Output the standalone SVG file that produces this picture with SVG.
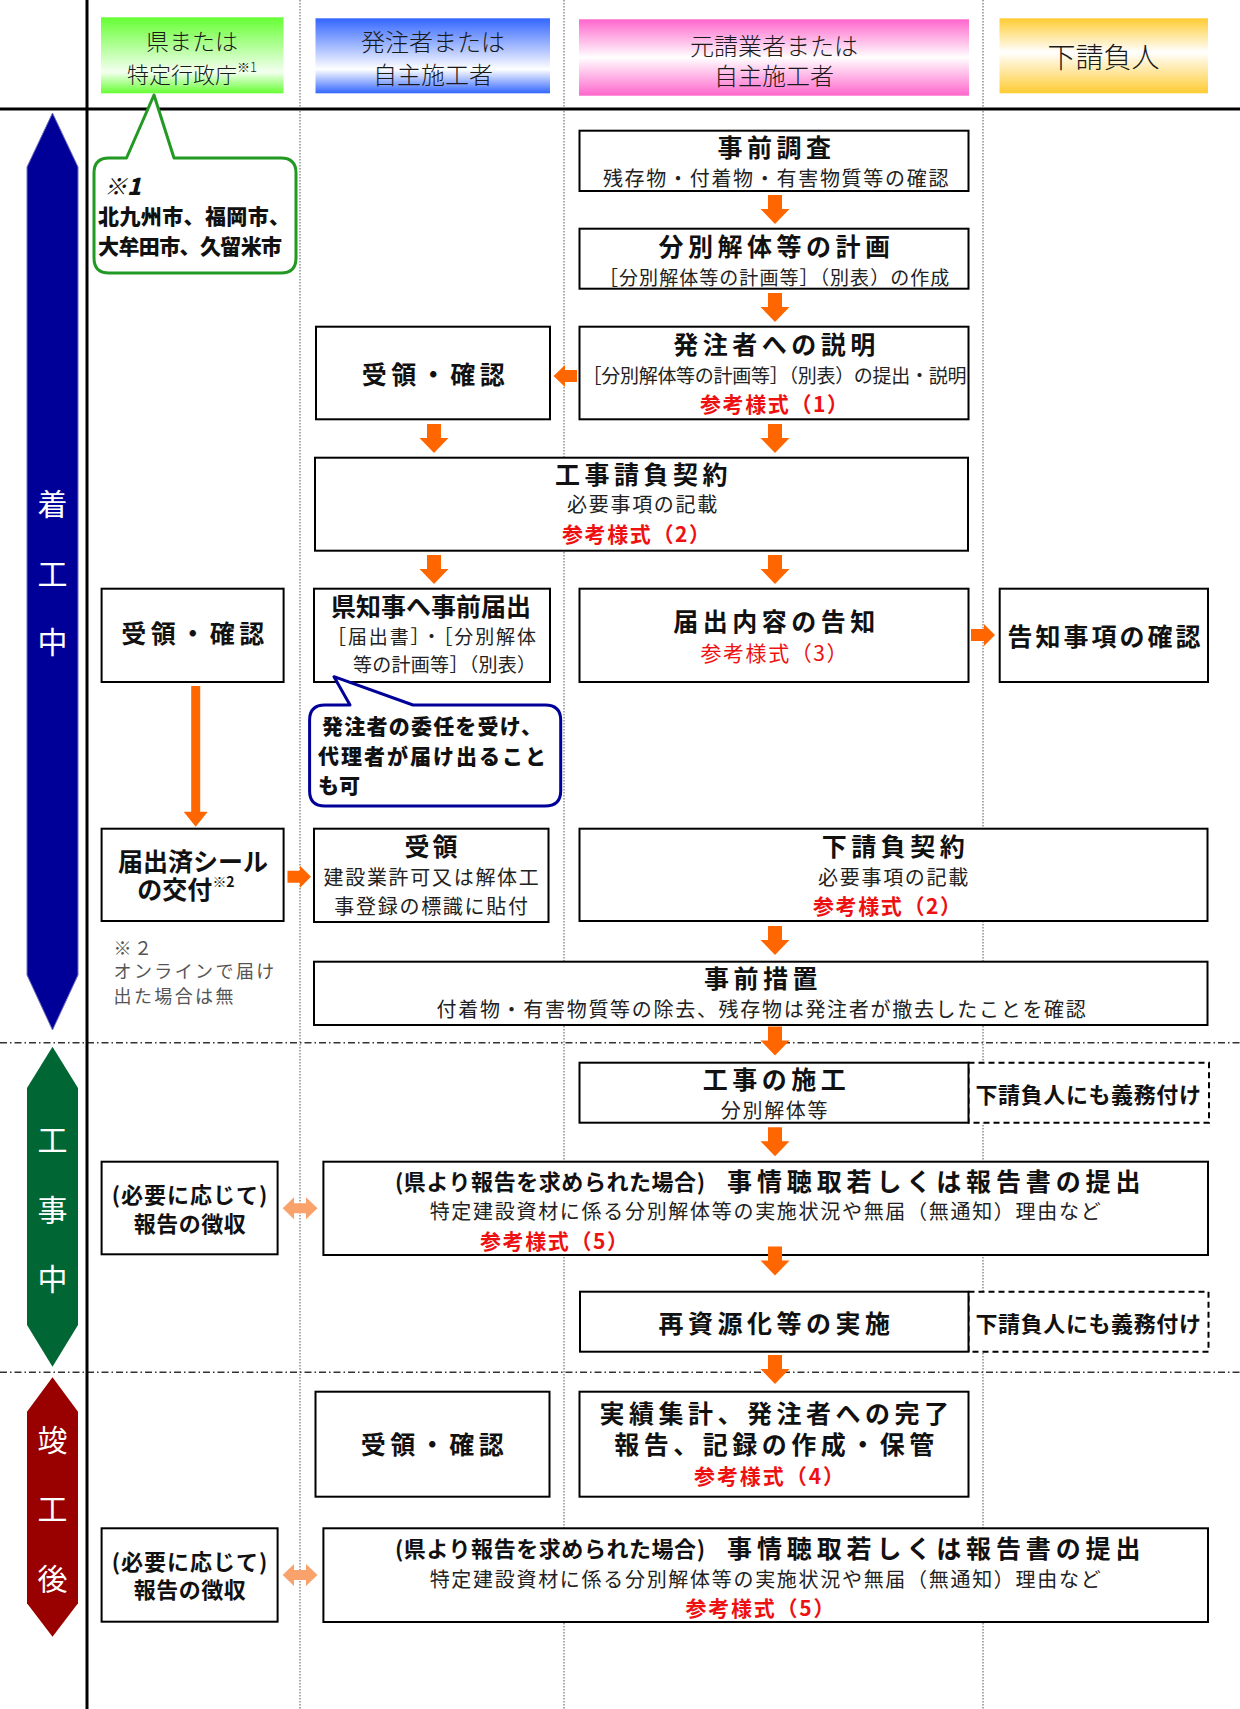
<svg xmlns="http://www.w3.org/2000/svg" width="1240" height="1709" viewBox="0 0 1240 1709">
<defs>
<linearGradient id="gG" x1="0" y1="0" x2="0" y2="1"><stop offset="0" stop-color="#66ff33"/><stop offset="0.72" stop-color="#f4fff0"/><stop offset="1" stop-color="#66ff33"/></linearGradient>
<linearGradient id="gB" x1="0" y1="0" x2="0" y2="1"><stop offset="0" stop-color="#3366ff"/><stop offset="0.68" stop-color="#ffffff"/><stop offset="1" stop-color="#3366ff"/></linearGradient>
<linearGradient id="gP" x1="0" y1="0" x2="0" y2="1"><stop offset="0" stop-color="#ff66cc"/><stop offset="0.5" stop-color="#ffffff"/><stop offset="1" stop-color="#ff66cc"/></linearGradient>
<linearGradient id="gY" x1="0" y1="0" x2="0" y2="1"><stop offset="0" stop-color="#ffcc33"/><stop offset="0.45" stop-color="#ffffff"/><stop offset="1" stop-color="#ffcc33"/></linearGradient>
<path id="dn" d="M-7,0H7V14H14.5L0,29L-14.5,14H-7Z"/>
</defs>
<style>
text{font-family:"Noto Sans CJK JP","Noto Sans CJK SC",sans-serif;dominant-baseline:central;text-anchor:middle;fill:#111}
.bx{fill:#fff;stroke:#000;stroke-width:2}
.dbx{fill:#fff;stroke:#000;stroke-width:2;stroke-dasharray:6 4}
.hd{font-size:24px;fill:#1a1a1a;font-weight:300}
.ti{font-size:25px;font-weight:700;letter-spacing:4.5px}
.st{font-size:20px;letter-spacing:1.7px;fill:#222}
.rd{font-size:21px;font-weight:700;fill:#ee1111}
.rn{font-size:21px;fill:#ee1111}
.ph{font-size:30px;fill:#fff}
.ar{fill:#ff6600}
.da{fill:#f9a26c}
.dot{stroke:#555;stroke-width:1;stroke-dasharray:1.5 1.5}
.dd{stroke:#333;stroke-width:1.5;stroke-dasharray:7 3 1.5 3}
.cb{font-size:21px;font-weight:900;text-anchor:start}
.nt{font-size:18px;fill:#555;text-anchor:start;letter-spacing:2.4px}
.sm{font-size:22px;font-weight:700}
</style>
<rect width="1240" height="1709" fill="#fff"/>

<g id="grid">
<line class="dot" x1="300" y1="0" x2="300" y2="1709"/>
<line class="dot" x1="564" y1="0" x2="564" y2="1709"/>
<line class="dot" x1="983" y1="0" x2="983" y2="1709"/>
<line class="dd" x1="0" y1="1042.7" x2="1240" y2="1042.7"/>
<line class="dd" x1="0" y1="1372.3" x2="1240" y2="1372.3"/>
<line x1="87" y1="0" x2="87" y2="1709" stroke="#000" stroke-width="3"/>
<line x1="0" y1="109" x2="1240" y2="109" stroke="#000" stroke-width="3"/>
</g>

<g id="headers">
<g id="h-pref"><rect x="101" y="17.3" width="182.5" height="76" fill="url(#gG)"/>
<text class="hd" x="192" y="40" style="font-size:23px">県または</text>
<text class="hd" x="192" y="73" style="font-size:22px">特定行政庁<tspan font-size="13" dy="-7">※1</tspan></text></g>
<g id="h-owner"><rect x="315.5" y="18.3" width="234.5" height="75" fill="url(#gB)"/>
<text class="hd" x="433" y="40">発注者または</text>
<text class="hd" x="433" y="73">自主施工者</text></g>
<g id="h-main"><rect x="579" y="19.3" width="390" height="76.4" fill="url(#gP)"/>
<text class="hd" x="774" y="44">元請業者または</text>
<text class="hd" x="774" y="74">自主施工者</text></g>
<g id="h-sub"><rect x="999.5" y="18.3" width="208.5" height="75" fill="url(#gY)"/>
<text class="hd" x="1103.5" y="56" style="font-size:28px">下請負人</text></g>
</g>

<g id="phases">
<g id="ph-start"><polygon points="52.5,113 78,167 78,975 52.5,1030 27,975 27,167" fill="#000099" stroke="#6f6fc0" stroke-width="1"/>
<text class="ph" x="52.5" y="501.7">着</text><text class="ph" x="52.5" y="571.7">工</text><text class="ph" x="52.5" y="640">中</text></g>
<g id="ph-during"><polygon points="52.5,1046.7 78,1088 78,1325 52.5,1366.7 27,1325 27,1088" fill="#006633"/>
<text class="ph" x="52.5" y="1138.3">工</text><text class="ph" x="52.5" y="1208">事</text><text class="ph" x="52.5" y="1276.7">中</text></g>
<g id="ph-after"><polygon points="52.5,1377.3 78,1411.7 78,1603.3 52.5,1636.7 27,1603.3 27,1411.7" fill="#990000"/>
<text class="ph" x="52.5" y="1438.3">竣</text><text class="ph" x="52.5" y="1506.7">工</text><text class="ph" x="52.5" y="1576.7">後</text></g>
</g>

<g id="n-note1">
<path d="M126.5,158 L154,95 L174,158 H281 Q296,158 296,173 V258 Q296,273 281,273 H109 Q94,273 94,258 V173 Q94,158 109,158 Z" fill="#fff" stroke="#229922" stroke-width="3" stroke-linejoin="round"/>
<text class="cb" x="104" y="185" style="font-style:italic;font-size:23px">※1</text>
<text class="cb" x="98" y="215" textLength="192">北九州市、福岡市、</text>
<text class="cb" x="98" y="245" textLength="184">大牟田市、久留米市</text>
</g>

<g id="n-survey"><rect class="bx" x="579.5" y="130.7" width="389" height="60.3"/>
<text class="ti" x="776.5" y="146">事前調査</text>
<text class="st" x="776.5" y="177">残存物・付着物・有害物質等の確認</text></g>

<g id="n-plan"><rect class="bx" x="579.5" y="228.7" width="389" height="60"/>
<text class="ti" x="776.5" y="245">分別解体等の計画</text>
<text class="st" x="775" y="276" style="font-size:19px" textLength="352">［分別解体等の計画等］（別表）の作成</text></g>

<g id="n-recv1"><rect class="bx" x="316" y="326.7" width="234" height="92.6"/>
<text class="ti" x="435.5" y="373">受領・確認</text></g>

<g id="n-explain"><rect class="bx" x="579.5" y="326.7" width="389" height="92.6"/>
<text class="ti" x="776.5" y="343">発注者への説明</text>
<text class="st" x="774.5" y="374" style="font-size:19px;letter-spacing:0" textLength="384">［分別解体等の計画等］（別表）の提出・説明</text>
<text class="rd" x="774" y="403" textLength="148">参考様式（1）</text></g>

<g id="n-contract"><rect class="bx" x="315" y="457.7" width="653" height="93"/>
<text class="ti" x="643.5" y="473">工事請負契約</text>
<text class="st" x="643" y="503">必要事項の記載</text>
<text class="rd" x="636" y="533" textLength="148">参考様式（2）</text></g>

<g id="n-recv2"><rect class="bx" x="101.6" y="588.7" width="182" height="93.3"/>
<text class="ti" x="195" y="631.7">受領・確認</text></g>

<g id="n-notify"><rect class="bx" x="314" y="588.7" width="236" height="93.3"/>
<text class="ti" x="431" y="605" style="letter-spacing:0">県知事へ事前届出</text>
<text class="st" x="327" y="635" style="font-size:19px;letter-spacing:0;text-anchor:start" textLength="209">［届出書］・［分別解体</text>
<text class="st" x="353" y="663" style="font-size:19px;letter-spacing:0;text-anchor:start" textLength="183">等の計画等］（別表）</text></g>

<g id="n-inform"><rect class="bx" x="579.5" y="588.7" width="389" height="93.3"/>
<text class="ti" x="776.5" y="620">届出内容の告知</text>
<text class="rn" x="774" y="651.7" textLength="147">参考様式（3）</text></g>

<g id="n-check"><rect class="bx" x="999.7" y="588.7" width="208.3" height="93.3"/>
<text class="ti" x="1105.5" y="635" style="letter-spacing:3px">告知事項の確認</text></g>

<g id="n-note-agent">
<path d="M350,705 L334,676.7 L413,705 H545 Q560.7,705 560.7,720 V791 Q560.7,806 545,806 H325 Q309.6,806 309.6,791 V720 Q309.6,705 325,705 Z" fill="#fff" stroke="#000099" stroke-width="3" stroke-linejoin="round"/>
<text class="cb" x="322" y="725" textLength="220">発注者の委任を受け、</text>
<text class="cb" x="318" y="755" textLength="228">代理者が届け出ること</text>
<text class="cb" x="318" y="784">も可</text>
</g>

<g id="n-seal"><rect class="bx" x="101.6" y="828.7" width="182" height="92.3"/>
<text class="ti" x="193" y="860" style="letter-spacing:0">届出済シール</text>
<text class="ti" x="186" y="888" style="letter-spacing:0">の交付<tspan font-size="14" dy="-7">※2</tspan></text></g>

<g id="n-note2">
<text class="nt" x="113.5" y="946.7">※２</text>
<text class="nt" x="113.5" y="970">オンラインで届け</text>
<text class="nt" x="113.5" y="995">出た場合は無</text>
</g>

<g id="n-recv3"><rect class="bx" x="314" y="828.7" width="234.5" height="93.3"/>
<text class="ti" x="432.5" y="845" style="letter-spacing:3px">受領</text>
<text class="st" x="432" y="876.7">建設業許可又は解体工</text>
<text class="st" x="432" y="905.7">事登録の標識に貼付</text></g>

<g id="n-subcontract"><rect class="bx" x="579.5" y="828.7" width="628" height="92.3"/>
<text class="ti" x="895.5" y="845">下請負契約</text>
<text class="st" x="894" y="876.7">必要事項の記載</text>
<text class="rd" x="887" y="905" textLength="148">参考様式（2）</text></g>

<g id="n-prep"><rect class="bx" x="314" y="961.7" width="893.5" height="63.3"/>
<text class="ti" x="763" y="976.7">事前措置</text>
<text class="st" x="762" y="1008.3">付着物・有害物質等の除去、残存物は発注者が撤去したことを確認</text></g>

<g id="n-duty1"><rect class="dbx" x="968.5" y="1062.7" width="240.5" height="60"/>
<text class="sm" x="1088.5" y="1093.3" style="letter-spacing:0.6px">下請負人にも義務付け</text></g>

<g id="n-work"><rect class="bx" x="579.5" y="1062.7" width="389" height="60"/>
<text class="ti" x="776.5" y="1078.3">工事の施工</text>
<text class="st" x="775" y="1109.3">分別解体等</text></g>

<g id="n-collect1"><rect class="bx" x="101.6" y="1161.7" width="176" height="92.6"/>
<text class="sm" x="190" y="1192.7" style="letter-spacing:1px">(必要に応じて)</text>
<text class="sm" x="190" y="1221.7" style="letter-spacing:0.5px">報告の徴収</text></g>

<g id="n-report1"><rect class="bx" x="323.4" y="1161.7" width="884.6" height="93.3"/>
<text x="395" y="1180" style="text-anchor:start;font-size:22px;font-weight:700" textLength="310">(県より報告を求められた場合)</text>
<text class="ti" x="727" y="1180" style="text-anchor:start" textLength="418">事情聴取若しくは報告書の提出</text>
<text class="st" x="766" y="1210.7">特定建設資材に係る分別解体等の実施状況や無届（無通知）理由など</text>
<text class="rd" x="480" y="1240" style="text-anchor:start" textLength="148">参考様式（5）</text></g>

<g id="n-duty2"><rect class="dbx" x="968.5" y="1291.7" width="240" height="60"/>
<text class="sm" x="1088.5" y="1321.7" style="letter-spacing:0.6px">下請負人にも義務付け</text></g>

<g id="n-recycle"><rect class="bx" x="580" y="1291.7" width="388.5" height="60"/>
<text class="ti" x="776.5" y="1321.7">再資源化等の実施</text></g>

<g id="n-recv4"><rect class="bx" x="315.5" y="1391.7" width="234" height="105"/>
<text class="ti" x="434.5" y="1442.7">受領・確認</text></g>

<g id="n-complete"><rect class="bx" x="579.5" y="1391.7" width="389" height="105"/>
<text class="ti" x="776.5" y="1411.7">実績集計、発注者への完了</text>
<text class="ti" x="776.5" y="1442.7">報告、記録の作成・保管</text>
<text class="rd" x="769" y="1475" textLength="150">参考様式（4）</text></g>

<g id="n-collect2"><rect class="bx" x="101.6" y="1528.3" width="176" height="93.4"/>
<text class="sm" x="190" y="1560" style="letter-spacing:1px">(必要に応じて)</text>
<text class="sm" x="190" y="1588.3" style="letter-spacing:0.5px">報告の徴収</text></g>

<g id="n-report2"><rect class="bx" x="323.4" y="1528.3" width="884.6" height="93.7"/>
<text x="395" y="1546.7" style="text-anchor:start;font-size:22px;font-weight:700" textLength="310">(県より報告を求められた場合)</text>
<text class="ti" x="727" y="1546.7" style="text-anchor:start" textLength="418">事情聴取若しくは報告書の提出</text>
<text class="st" x="766" y="1578.3">特定建設資材に係る分別解体等の実施状況や無届（無通知）理由など</text>
<text class="rd" x="760" y="1606.7" textLength="149">参考様式（5）</text></g>

<g id="connectors">
<use href="#dn" class="ar" x="775" y="195"/>
<use href="#dn" class="ar" x="775" y="293"/>
<use href="#dn" class="ar" x="775" y="424"/>
<use href="#dn" class="ar" x="434" y="424"/>
<use href="#dn" class="ar" x="434" y="555"/>
<use href="#dn" class="ar" x="775" y="555"/>
<use href="#dn" class="ar" x="775" y="926"/>
<use href="#dn" class="ar" x="775" y="1026.5"/>
<use href="#dn" class="ar" x="775" y="1127.3"/>
<use href="#dn" class="ar" x="775" y="1246.5"/>
<use href="#dn" class="ar" x="775" y="1355"/>
<path class="ar" d="M553.6,376 L565,365 V370 H577 V382 H565 V387 Z"/>
<path class="ar" d="M995,635 L984,624 V629 H971 V641 H984 V646 Z"/>
<path class="ar" d="M311,876.7 L300,865.7 V870.7 H287.5 V882.7 H300 V887.7 Z"/>
<path class="ar" d="M191.2,686 H200.2 V811.7 H207.7 L195.7,826.7 L183.7,811.7 H191.2 Z"/>
<path class="da" d="M282.7,1208.3 L294,1197.3 V1203.3 H306 V1197.3 L317.5,1208.3 L306,1219.3 V1213.3 H294 V1219.3 Z"/>
<path class="da" d="M282.7,1575 L294,1564 V1570 H306 V1564 L317.5,1575 L306,1586 V1580 H294 V1586 Z"/>
</g>
</svg>
